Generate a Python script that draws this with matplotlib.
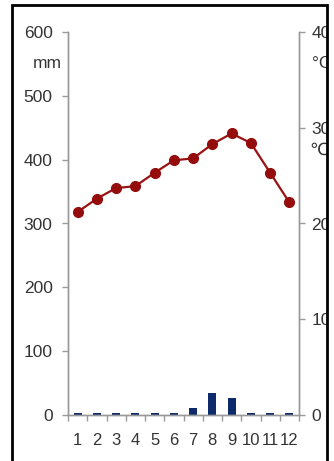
import matplotlib
matplotlib.use("Agg")
import matplotlib.pyplot as plt
from matplotlib.patches import Rectangle
from matplotlib import font_manager

months = [1, 2, 3, 4, 5, 6, 7, 8, 9, 10, 11, 12]
month_labels = ["1", "2", "3", "4", "5", "6", "7", "8", "9", "10", "11", "12"]
precip_mm = [3, 3, 3, 3, 3, 3, 11, 34, 26, 3, 3, 3]
temp_c = [21.2, 22.6, 23.7, 23.9, 25.3, 26.6, 26.8, 28.3, 29.4, 28.4, 25.3, 22.2]

names = sorted({f.name for f in font_manager.fontManager.ttflist})
narrow = "Liberation Sans Narrow" in names
fam = "Liberation Sans Narrow" if narrow else "Liberation Sans"
plt.rcParams['font.family'] = [fam, 'DejaVu Sans', 'Noto Sans CJK SC']
ysize = 14 if narrow else 12.5
xsize = 14 if narrow else 12

W, H = 334, 461
fig = plt.figure(figsize=(W / 100, H / 100), dpi=100)
ax = fig.add_axes([68 / W, (H - 415) / H, (299 - 68) / W, (415 - 32) / H])
ax2 = ax.twinx()

gray = "#999999"
txt = "#333333"

ax.bar(months, precip_mm, width=0.42, color="#0d2a6b", zorder=2)
ax.set_xlim(0.5, 12.5)
ax.set_ylim(0, 600)
ax.set_yticks([0, 100, 200, 300, 400, 500, 600])
ax.set_xticks(months)
ax.set_xticklabels(month_labels)
ax.set_xticks([m + 0.5 for m in [0] + months], minor=True)
ax.tick_params(axis="x", which="major", length=0, pad=13, labelsize=xsize, colors=txt)
ax.tick_params(axis="x", which="minor", length=4, width=1, color=gray, direction="out")
ax.tick_params(axis="y", length=4, width=1, color=gray, labelsize=ysize,
               labelcolor=txt, pad=7)

ax2.plot(months, temp_c, color="#9a1212", lw=1.6, marker="o", ms=7,
         markerfacecolor="#950c0c", markeredgecolor="#950c0c", zorder=3)
ax2.set_ylim(0, 40)
ax2.set_yticks([0, 10, 20, 30, 40])
ax2.tick_params(axis="y", length=4, width=1, color=gray, labelsize=ysize,
                labelcolor=txt, pad=5)

for a in (ax, ax2):
    a.spines["top"].set_visible(False)
    for s in ("left", "right", "bottom"):
        a.spines[s].set_color(gray)
        a.spines[s].set_linewidth(1)
ax.patch.set_visible(False)

fig.text(47 / W, 1 - 63 / H, "mm", ha="center", va="center", fontsize=ysize, color=txt)
fig.text(312 / W, 1 - 63 / H, "°C", ha="left", va="center", fontsize=ysize, color=txt)
fig.text(309 / W, 1 - 150 / H, "℃", ha="left", va="center", fontsize=ysize, color=txt)

# mask anything past the right border, then draw the frame
fig.patches.append(Rectangle((327 / W, 0), 1, 1, transform=fig.transFigure,
                             facecolor="white", edgecolor="none", zorder=10))
fig.patches.append(Rectangle((12.5 / W, -0.02), (327 - 12.5) / W, 1 - 5 / H + 0.02,
                             transform=fig.transFigure, fill=False,
                             edgecolor="black", lw=2, zorder=11))

fig.savefig("out.png", dpi=100)
